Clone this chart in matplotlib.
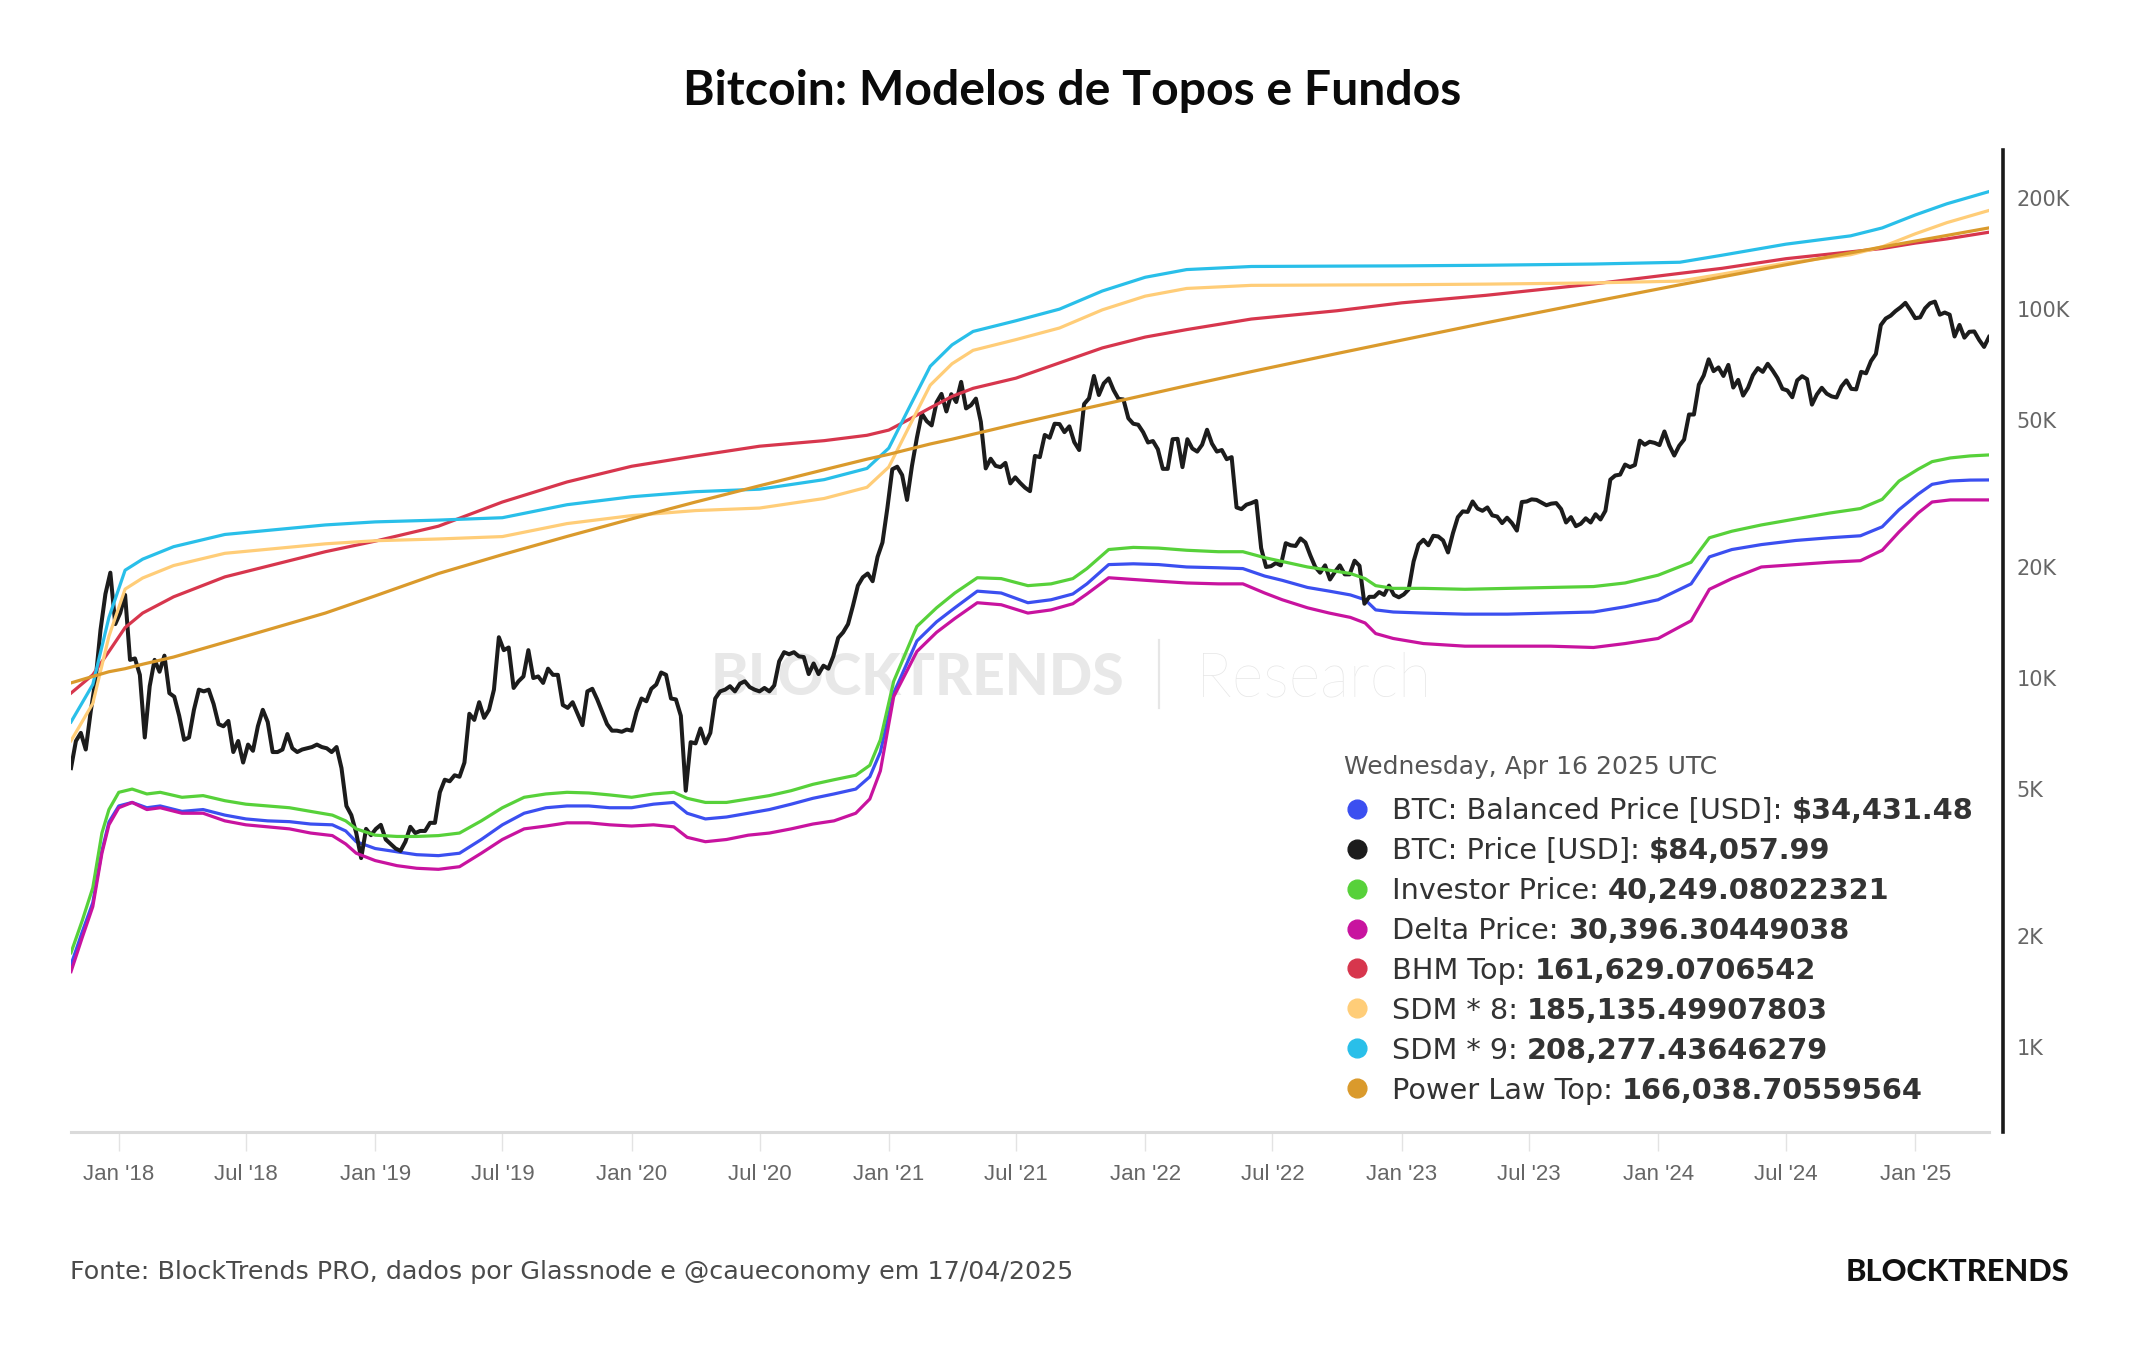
import numpy as np
import pandas as pd
import matplotlib
matplotlib.use('Agg')
import matplotlib.pyplot as plt
from matplotlib.lines import Line2D

W, H, DPI = 2144, 1350, 100

# ---------------- data ----------------
btc_price = [
    # 2017 (from Oct 25, weekly)
    5700, 6750, 7100, 6400, 8100, 9900, 13500, 16900, 19300, 14000,
    # 2018
    15000, 16800, 11200, 11300, 10200, 6900, 9500, 11200, 10400, 11500, 9100, 8900, 7900,
    6800, 6900, 8200, 9300, 9200, 9300, 8500, 7500, 7400, 7650, 6300, 6750, 5900,
    6600, 6350, 7400, 8200, 7600, 6300, 6300, 6400, 7050, 6450, 6300, 6400, 6450,
    6500, 6600, 6500, 6450, 6300, 6500, 5700, 4500, 4250, 3800, 3250, 3900, 3750,
    # 2019
    3900, 4000, 3650, 3550, 3450, 3400, 3600, 3950, 3800, 3850, 3850, 4050, 4050,
    4900, 5300, 5250, 5450, 5400, 5900, 8000, 7700, 8600, 7800, 8200, 9300, 12900,
    11900, 12100, 9400, 9800, 10100, 11900, 10000, 10100, 9700, 10600, 10200, 10200, 8450,
    8300, 8600, 8000, 7450, 9200, 9350, 8750, 8100, 7500, 7200, 7200, 7150, 7250,
    # 2020
    7200, 8100, 8800, 8650, 9350, 9600, 10350, 10200, 8800, 8750, 7900, 4950, 6700,
    6650, 7300, 6650, 7100, 8800, 9200, 9300, 9500, 9200, 9650, 9800, 9450, 9300,
    9200, 9400, 9200, 9550, 11100, 11750, 11600, 11750, 11450, 11400, 10250, 10950, 10250, 10800,
    10600, 11450, 12850, 13300, 14000, 15700, 17800, 18750, 19200, 18300, 21300, 23300, 28900,
    # 2021
    36800, 37400, 35500, 30400, 37600, 44800, 52100, 49700, 48400, 55900, 58900, 52800, 58800,
    56000, 63500, 53800, 54900, 57200, 49500, 37000, 39300, 37600, 37300, 38300, 33700, 35000,
    33800, 32800, 32100, 40000, 39700, 45600, 44800, 48900, 48800, 46400, 48100, 43600, 41500,
    55300, 57300, 65900, 58500, 62900, 64900, 60300, 57100, 56900, 50600, 48900, 48600, 46400,
    # 2022
    43500, 43900, 41700, 36900, 36900, 44400, 44500, 37300, 44400, 41900, 41100, 42900, 47100,
    43200, 41100, 41500, 39200, 39700, 29000, 28700, 29500, 29800, 30200, 22500, 20000, 20100,
    20500, 20200, 23200, 22900, 22800, 23900, 23300, 21500, 20000, 19300, 20200, 18500, 19400,
    20200, 19100, 19100, 20800, 20150, 15900, 16600, 16600, 17100, 16800, 17800, 16800, 16550,
    # 2023
    16850, 17400, 20700, 23000, 23700, 22900, 24300, 24200, 23600, 21900, 24700, 27300, 28300,
    28200, 30100, 28800, 28400, 29000, 27600, 27400, 26300, 27200, 26300, 25100, 30000, 30100,
    30500, 30400, 29900, 29400, 29700, 29800, 28700, 26400, 27300, 25800, 26200, 27100, 26400,
    27800, 26900, 28400, 34500, 35400, 35600, 37900, 37300, 37800, 44000, 42900, 43700, 43400,
    # 2024
    42800, 46600, 42700, 40100, 42600, 44300, 51800, 51800, 62400, 66100, 73100, 67900, 69500,
    65900, 70600, 61300, 64300, 58300, 61200, 66200, 69200, 67600, 71100, 68200, 65000, 60800,
    60200, 57700, 64100, 65800, 64600, 55100, 58700, 61200, 59000, 58000, 57600, 61700, 64100,
    60800, 60600, 67600, 67000, 72300, 75600, 90500, 94300, 96000, 98800, 101100, 104000, 99400,
    # 2025
    94500, 95000, 100500, 103700, 104800, 96600, 97900, 96600, 84300,
    90600, 83700, 86800, 87000, 82500, 79000, 84058,
]
price_end = '2025-04-16'

band_dates = [
    '2017-10-25', '2017-11-10', '2017-11-25', '2017-12-08', '2017-12-18', '2018-01-01',
    '2018-01-20', '2018-02-10', '2018-03-01', '2018-04-01', '2018-05-01', '2018-06-01',
    '2018-07-01', '2018-08-01', '2018-09-01', '2018-10-01', '2018-11-01', '2018-11-20',
    '2018-12-05', '2019-01-01', '2019-02-01', '2019-03-01', '2019-04-01', '2019-05-01',
    '2019-06-01', '2019-07-01', '2019-08-01', '2019-09-01', '2019-10-01', '2019-11-01',
    '2019-12-01', '2020-01-01', '2020-02-01', '2020-03-01', '2020-03-20', '2020-04-15',
    '2020-05-15', '2020-06-15', '2020-07-15', '2020-08-15', '2020-09-15', '2020-10-15',
    '2020-11-15', '2020-12-05', '2020-12-20', '2021-01-08', '2021-02-10', '2021-03-10',
    '2021-04-05', '2021-05-07', '2021-06-10', '2021-07-18', '2021-08-20', '2021-09-20',
    '2021-10-10', '2021-11-10', '2021-12-15', '2022-01-20', '2022-03-01', '2022-04-15',
    '2022-05-20', '2022-06-20', '2022-07-15', '2022-08-20', '2022-09-20', '2022-10-20',
    '2022-11-10', '2022-11-25', '2022-12-20', '2023-02-01', '2023-04-01', '2023-06-01',
    '2023-08-01', '2023-10-01', '2023-11-15', '2024-01-01', '2024-02-17', '2024-03-14',
    '2024-04-15', '2024-05-27', '2024-07-15', '2024-09-01', '2024-10-15', '2024-11-15',
    '2024-12-09', '2025-01-05', '2025-01-25', '2025-02-20', '2025-03-20', '2025-04-16',
]
investor_price = [
    1800, 2200, 2700, 3800, 4400, 4900, 5000, 4850, 4900, 4750, 4800, 4650,
    4550, 4500, 4450, 4350, 4250, 4100, 3900, 3750, 3720, 3720, 3740, 3800,
    4100, 4450, 4750, 4850, 4900, 4880, 4820, 4750, 4850, 4900, 4720, 4600,
    4600, 4700, 4800, 4950, 5150, 5300, 5450, 5800, 6800, 9800, 13800, 15500,
    17000, 18700, 18600, 17800, 18000, 18600, 19800, 22300, 22600, 22500, 22200, 22000,
    22000, 21200, 20700, 20000, 19600, 19200, 18600, 17800, 17500, 17500, 17400, 17500,
    17600, 17700, 18100, 19000, 20600, 24000, 25000, 26000, 27000, 28000, 28800, 30500,
    34200, 36800, 38600, 39500, 40000, 40249,
]
balanced_price = [
    1670, 2050, 2460, 3400, 4070, 4500, 4600, 4450, 4500, 4350, 4400, 4250,
    4150, 4100, 4080, 4020, 4000, 3850, 3600, 3450, 3380, 3320, 3300, 3350,
    3650, 4000, 4300, 4450, 4500, 4500, 4450, 4450, 4550, 4600, 4300, 4150,
    4200, 4300, 4400, 4550, 4720, 4850, 5000, 5400, 6300, 9100, 12600, 14200,
    15500, 17200, 17000, 16000, 16300, 16900, 18000, 20300, 20400, 20300, 20000, 19900,
    19800, 18900, 18400, 17600, 17200, 16800, 16300, 15300, 15100, 15000, 14900, 14900,
    15000, 15100, 15600, 16300, 18000, 21300, 22300, 23000, 23600, 24000, 24300, 25700,
    28600, 31500, 33500, 34200, 34400, 34431,
]
delta_price = [
    1600, 1980, 2400, 3350, 4000, 4450, 4600, 4400, 4450, 4300, 4300, 4100,
    4000, 3950, 3900, 3800, 3740, 3550, 3350, 3200, 3100, 3050, 3030, 3080,
    3350, 3650, 3900, 3970, 4050, 4050, 4000, 3970, 4000, 3950, 3700, 3600,
    3650, 3750, 3800, 3900, 4020, 4100, 4300, 4700, 5600, 8900, 11800, 13300,
    14500, 16000, 15800, 15000, 15300, 15900, 16900, 18700, 18500, 18300, 18100, 18000,
    18000, 17000, 16300, 15500, 15000, 14600, 14100, 13200, 12800, 12400, 12200, 12200,
    12200, 12100, 12400, 12800, 14300, 17400, 18600, 20000, 20300, 20600, 20800, 22200,
    24900, 28000, 30000, 30400, 30400, 30396,
]

top_dates = [
    '2017-10-25', '2017-11-25', '2017-12-18', '2018-01-10', '2018-02-04', '2018-03-20',
    '2018-06-01', '2018-10-22', '2019-01-01', '2019-04-01', '2019-07-01', '2019-10-01',
    '2020-01-01', '2020-04-01', '2020-07-01', '2020-10-01', '2020-12-01', '2021-01-01',
    '2021-02-01', '2021-03-01', '2021-04-01', '2021-05-01', '2021-07-01', '2021-09-01',
    '2021-11-01', '2022-01-01', '2022-03-01', '2022-06-01', '2022-10-01', '2023-01-01',
    '2023-05-01', '2023-10-01', '2024-02-01', '2024-04-01', '2024-07-01', '2024-10-01',
    '2024-11-15', '2025-01-01', '2025-02-15', '2025-04-16',
]
sdm_9 = [
    7600, 9600, 14600, 19600, 21000, 22700, 24500, 26000, 26500, 26800, 27200, 29500,
    31000, 32000, 32500, 34500, 37000, 42000, 55000, 70000, 80000, 87000, 93000, 100000,
    112000, 122000, 128000, 130500, 130800, 131000, 131500, 132500, 134000, 140000, 150000, 158000,
    166000, 180000, 193000, 208277,
]
sdm_8 = [
    6760, 8530, 12980, 17420, 18670, 20180, 21780, 23110, 23560, 23820, 24180, 26220,
    27560, 28440, 28890, 30670, 32890, 37330, 48890, 62220, 71110, 77330, 82670, 88890,
    99560, 108440, 113780, 116000, 116270, 116440, 116890, 117780, 119110, 124440, 133330, 140440,
    147560, 160000, 171560, 185135,
]
bhm_top = [
    9100, 10200, 11800, 13700, 15000, 16600, 18800, 22000, 23500, 25800, 30000, 34000,
    37500, 40000, 42500, 44000, 45500, 47000, 50500, 54000, 58000, 61000, 65000, 71500,
    78500, 84000, 88000, 94000, 99000, 104000, 109000, 117000, 125000, 129000, 137000, 143000,
    146000, 151000, 155000, 161629,
]
power_law_top = [
    9700, 10100, 10400, 10600, 10900, 11400, 12500, 15000, 16700, 19200, 21600, 24200,
    27000, 30000, 33200, 36700, 39200, 40400, 41800, 43100, 44400, 45800, 48800, 51900,
    55100, 58500, 62000, 67700, 75800, 82400, 91800, 104800, 116400, 122300, 131900, 142100,
    147400, 152900, 158400, 166039,
]

y_ticks = [1000, 2000, 5000, 10000, 20000, 50000, 100000, 200000]
y_tick_labels = ['1K', '2K', '5K', '10K', '20K', '50K', '100K', '200K']
x_tick_dates = ['2018-01-01', '2018-07-01', '2019-01-01', '2019-07-01', '2020-01-01',
                '2020-07-01', '2021-01-01', '2021-07-01', '2022-01-01', '2022-07-01',
                '2023-01-01', '2023-07-01', '2024-01-01', '2024-07-01', '2025-01-01']
x_tick_labels = ["Jan '18", "Jul '18", "Jan '19", "Jul '19", "Jan '20", "Jul '20",
                 "Jan '21", "Jul '21", "Jan '22", "Jul '22", "Jan '23", "Jul '23",
                 "Jan '24", "Jul '24", "Jan '25"]

title_text = 'Bitcoin: Modelos de Topos e Fundos'
legend_header = 'Wednesday, Apr 16 2025 UTC'
legend_labels = ['BTC: Balanced Price [USD]:', 'BTC: Price [USD]:', 'Investor Price:',
                 'Delta Price:', 'BHM Top:', 'SDM * 8:', 'SDM * 9:', 'Power Law Top:']
legend_values = ['$34,431.48', '$84,057.99', '40,249.08022321', '30,396.30449038',
                 '161,629.0706542', '185,135.49907803', '208,277.43646279', '166,038.70559564']
footer_text = 'Fonte: BlockTrends PRO, dados por Glassnode e @caueconomy em 17/04/2025'

C_BLUE, C_BLACK, C_GREEN, C_MAG = '#3b4ff0', '#1c1c1c', '#57d13a', '#c8139f'
C_RED, C_YEL, C_CYAN, C_ORA = '#d7364d', '#ffcd78', '#29bfe9', '#da9a2c'
legend_colors = [C_BLUE, C_BLACK, C_GREEN, C_MAG, C_RED, C_YEL, C_CYAN, C_ORA]

# ---------------- figure ----------------
fig = plt.figure(figsize=(W / DPI, H / DPI), dpi=DPI)
fig.patch.set_facecolor('white')
AX_L, AX_R, AX_T, AX_B = 71, 1989, 150, 1132
ax = fig.add_axes([AX_L / W, 1 - AX_B / H, (AX_R - AX_L) / W, (AX_B - AX_T) / H])
ax.set_facecolor('white')

price_dates = pd.date_range(end=price_end, periods=len(btc_price), freq='7D')
bd = pd.to_datetime(band_dates)
td = pd.to_datetime(top_dates)

ax.plot(bd, balanced_price, color=C_BLUE, lw=2.3, zorder=3, solid_joinstyle='round')
ax.plot(price_dates, btc_price, color=C_BLACK, lw=2.9, zorder=4, solid_joinstyle='round')
ax.plot(bd, investor_price, color=C_GREEN, lw=2.3, zorder=5)
ax.plot(bd, delta_price, color=C_MAG, lw=2.3, zorder=6)
ax.plot(td, bhm_top, color=C_RED, lw=2.3, zorder=7)
ax.plot(td, sdm_8, color=C_YEL, lw=2.3, zorder=8)
ax.plot(td, sdm_9, color=C_CYAN, lw=2.3, zorder=9)
ax.plot(td, power_law_top, color=C_ORA, lw=2.3, zorder=10)

ax.set_yscale('log')
ax.set_ylim(588, 270000)
ax.set_xlim(pd.Timestamp('2017-10-25'), pd.Timestamp(price_end))

ax.yaxis.tick_right()
ax.set_yticks(y_ticks)
ax.set_yticklabels(y_tick_labels)
ax.yaxis.set_minor_locator(matplotlib.ticker.NullLocator())
ax.tick_params(axis='y', which='both', length=0, pad=9.5, labelsize=15, labelcolor='#666666')
for lab in ax.get_yticklabels():
    lab.set_fontfamily(['Liberation Sans', 'DejaVu Sans'])

ax.set_xticks(pd.to_datetime(x_tick_dates))
ax.set_xticklabels(x_tick_labels)
ax.xaxis.set_minor_locator(matplotlib.ticker.NullLocator())
ax.tick_params(axis='x', which='both', length=14, width=1.0, color='#e3e3e3', pad=9,
               labelsize=16, labelcolor='#666666')
for lab in ax.get_xticklabels():
    lab.set_fontfamily(['Liberation Sans', 'DejaVu Sans'])

for s in ['left', 'top']:
    ax.spines[s].set_visible(False)
ax.spines['bottom'].set_color('#dadada')
ax.spines['bottom'].set_linewidth(2.2)
ax.spines['right'].set_position(('axes', 1 + 14 / (AX_R - AX_L)))
ax.spines['right'].set_color('#1a1a1a')
ax.spines['right'].set_linewidth(2.6)

renderer = fig.canvas.get_renderer()


def fx(x):
    return x / W


def fy(y):
    return 1 - y / H


def fit_width(t, target):
    bb = t.get_window_extent(renderer=renderer)
    t.set_fontsize(t.get_fontsize() * target / bb.width)


def place(parent, s, x, yc, target_w=None, size=20, ha='left', cap=0.72, **kw):
    if parent is ax:
        t = ax.text(0, 0, s, fontsize=size, ha=ha, va='baseline',
                    transform=fig.transFigure, **kw)
    else:
        t = fig.text(0, 0, s, fontsize=size, ha=ha, va='baseline', **kw)
    if target_w:
        fit_width(t, target_w)
    capp = cap * t.get_fontsize() * DPI / 72
    t.set_position((fx(x), fy(yc + capp / 2)))
    return t


# title
place(fig, title_text, 1072, 87.5, target_w=777, size=30, ha='center',
      fontweight='bold', family=['Lato', 'DejaVu Sans'], color='#0a0a0a')

# watermark (behind lines)
place(ax, 'BLOCKTRENDS', 711, 675, target_w=413, size=40, fontweight='black',
      family=['Lato', 'DejaVu Sans'], color='#e8e8e8', zorder=1)
place(ax, 'Research', 1196, 675, target_w=235, size=40, fontweight='light',
      family=['Lato', 'DejaVu Sans'], color='#e6e6e6', zorder=1)
ax.add_line(Line2D([fx(1159), fx(1159)], [fy(640), fy(708)], transform=fig.transFigure,
                   color='#e6e6e6', lw=1.6, zorder=1))

# footer
place(fig, footer_text, 70, 1270, target_w=1003, size=17, color='#4a4a4a')
place(fig, 'BLOCKTRENDS', 1846, 1270, target_w=223, size=18, fontweight='black',
      family=['Lato', 'DejaVu Sans'], color='#111111')

# legend
place(fig, legend_header, 1344, 765.5, target_w=373, size=18, color='#555555')
row_y = [809 + i * 39.86 for i in range(len(legend_labels))]
lab_txt, val_txt = [], []
for lab, val in zip(legend_labels, legend_values):
    lab_txt.append(fig.text(0, 0, lab, fontsize=20, ha='left', va='baseline', color='#333333'))
    val_txt.append(fig.text(0, 0, val, fontsize=20, ha='left', va='baseline', color='#333333',
                            fontweight='bold'))
w0 = (lab_txt[0].get_window_extent(renderer=renderer).width
      + val_txt[0].get_window_extent(renderer=renderer).width + 0.318 * 20 * DPI / 72)
scale = 580 / w0
fs = 20 * scale
for i, (lt, vt) in enumerate(zip(lab_txt, val_txt)):
    lt.set_fontsize(fs)
    vt.set_fontsize(fs)
    capp = 0.73 * fs * DPI / 72
    yb = row_y[i] + capp / 2
    lt.set_position((fx(1392), fy(yb)))
    lw_ = lt.get_window_extent(renderer=renderer).width
    vt.set_position((fx(1392 + lw_ + 0.318 * fs * DPI / 72), fy(yb)))
    fig.add_artist(Line2D([fx(1357)], [fy(row_y[i])], marker='o', markersize=13.5,
                          color=legend_colors[i], transform=fig.transFigure, linestyle='none'))

fig.savefig('out.png', dpi=DPI, facecolor='white')
